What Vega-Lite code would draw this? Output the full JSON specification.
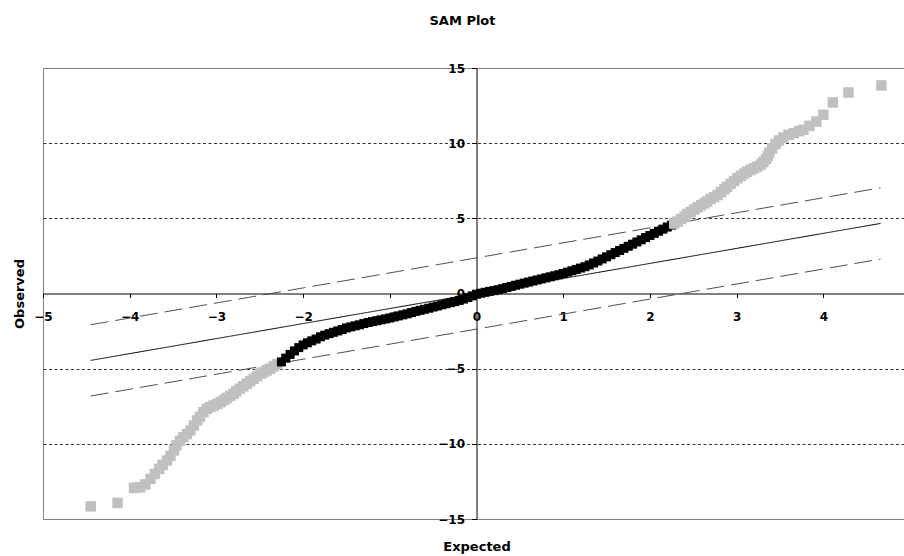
{
  "$schema": "https://vega.github.io/schema/vega-lite/v6.json",
  "autosize": {"type": "none"},
  "padding": {"left": 43, "top": 68, "right": 0, "bottom": 37},
  "width": 867,
  "height": 451,
  "background": "white",
  "title": {"text": "SAM Plot", "font": "DejaVu Sans", "fontSize": 13, "fontWeight": "bold", "color": "#000000", "anchor": "middle", "dx": -14, "offset": 34},
  "config": {
    "view": {"stroke": "#808080", "strokeWidth": 1},
    "axis": {"labelFont": "DejaVu Sans", "labelFontWeight": "bold", "labelFontSize": 12, "labelColor": "#000000", "titleFont": "DejaVu Sans", "titleFontWeight": "bold", "titleFontSize": 13, "titleColor": "#000000", "domainColor": "#000000", "tickColor": "#000000", "labelOverlap": false, "labelBound": false, "labelFlush": false}
  },
  "datasets": {
    "pts": [
      {"x": -4.45, "y": -14.16, "g": "sig"},
      {"x": -4.14, "y": -13.93, "g": "sig"},
      {"x": -3.95, "y": -12.93, "g": "sig"},
      {"x": -3.88, "y": -12.89, "g": "sig"},
      {"x": -3.82, "y": -12.7, "g": "sig"},
      {"x": -3.76, "y": -12.33, "g": "sig"},
      {"x": -3.71, "y": -12.0, "g": "sig"},
      {"x": -3.66, "y": -11.67, "g": "sig"},
      {"x": -3.62, "y": -11.4, "g": "sig"},
      {"x": -3.57, "y": -11.11, "g": "sig"},
      {"x": -3.53, "y": -10.8, "g": "sig"},
      {"x": -3.49, "y": -10.44, "g": "sig"},
      {"x": -3.46, "y": -10.1, "g": "sig"},
      {"x": -3.42, "y": -9.8, "g": "sig"},
      {"x": -3.38, "y": -9.56, "g": "sig"},
      {"x": -3.34, "y": -9.35, "g": "sig"},
      {"x": -3.3, "y": -9.11, "g": "sig"},
      {"x": -3.26, "y": -8.78, "g": "sig"},
      {"x": -3.22, "y": -8.44, "g": "sig"},
      {"x": -3.19, "y": -8.2, "g": "sig"},
      {"x": -3.15, "y": -7.9, "g": "sig"},
      {"x": -3.11, "y": -7.67, "g": "sig"},
      {"x": -3.07, "y": -7.55, "g": "sig"},
      {"x": -3.03, "y": -7.45, "g": "sig"},
      {"x": -2.99, "y": -7.35, "g": "sig"},
      {"x": -2.95, "y": -7.22, "g": "sig"},
      {"x": -2.91, "y": -7.08, "g": "sig"},
      {"x": -2.88, "y": -6.95, "g": "sig"},
      {"x": -2.84, "y": -6.82, "g": "sig"},
      {"x": -2.8, "y": -6.67, "g": "sig"},
      {"x": -2.77, "y": -6.5, "g": "sig"},
      {"x": -2.73, "y": -6.33, "g": "sig"},
      {"x": -2.69, "y": -6.17, "g": "sig"},
      {"x": -2.65, "y": -6.0, "g": "sig"},
      {"x": -2.61, "y": -5.83, "g": "sig"},
      {"x": -2.57, "y": -5.67, "g": "sig"},
      {"x": -2.53, "y": -5.5, "g": "sig"},
      {"x": -2.49, "y": -5.33, "g": "sig"},
      {"x": -2.46, "y": -5.25, "g": "sig"},
      {"x": -2.42, "y": -5.12, "g": "sig"},
      {"x": -2.38, "y": -5.0, "g": "sig"},
      {"x": -2.34, "y": -4.85, "g": "sig"},
      {"x": -2.3, "y": -4.7, "g": "sig"},
      {"x": -2.25, "y": -4.55, "g": "ns"},
      {"x": -2.2, "y": -4.3, "g": "ns"},
      {"x": -2.15, "y": -4.05, "g": "ns"},
      {"x": -2.1, "y": -3.82, "g": "ns"},
      {"x": -2.05, "y": -3.6, "g": "ns"},
      {"x": -2.0, "y": -3.42, "g": "ns"},
      {"x": -1.95, "y": -3.28, "g": "ns"},
      {"x": -1.9, "y": -3.15, "g": "ns"},
      {"x": -1.85, "y": -3.03, "g": "ns"},
      {"x": -1.8, "y": -2.88, "g": "ns"},
      {"x": -1.75, "y": -2.77, "g": "ns"},
      {"x": -1.7, "y": -2.67, "g": "ns"},
      {"x": -1.65, "y": -2.58, "g": "ns"},
      {"x": -1.6, "y": -2.49, "g": "ns"},
      {"x": -1.55, "y": -2.4, "g": "ns"},
      {"x": -1.5, "y": -2.29, "g": "ns"},
      {"x": -1.45, "y": -2.22, "g": "ns"},
      {"x": -1.4, "y": -2.15, "g": "ns"},
      {"x": -1.35, "y": -2.08, "g": "ns"},
      {"x": -1.3, "y": -2.0, "g": "ns"},
      {"x": -1.25, "y": -1.93, "g": "ns"},
      {"x": -1.2, "y": -1.87, "g": "ns"},
      {"x": -1.15, "y": -1.81, "g": "ns"},
      {"x": -1.1, "y": -1.75, "g": "ns"},
      {"x": -1.05, "y": -1.69, "g": "ns"},
      {"x": -1.0, "y": -1.63, "g": "ns"},
      {"x": -0.95, "y": -1.56, "g": "ns"},
      {"x": -0.9, "y": -1.49, "g": "ns"},
      {"x": -0.85, "y": -1.42, "g": "ns"},
      {"x": -0.8, "y": -1.35, "g": "ns"},
      {"x": -0.75, "y": -1.27, "g": "ns"},
      {"x": -0.7, "y": -1.19, "g": "ns"},
      {"x": -0.65, "y": -1.12, "g": "ns"},
      {"x": -0.6, "y": -1.05, "g": "ns"},
      {"x": -0.55, "y": -0.98, "g": "ns"},
      {"x": -0.5, "y": -0.9, "g": "ns"},
      {"x": -0.45, "y": -0.83, "g": "ns"},
      {"x": -0.4, "y": -0.75, "g": "ns"},
      {"x": -0.35, "y": -0.68, "g": "ns"},
      {"x": -0.3, "y": -0.61, "g": "ns"},
      {"x": -0.25, "y": -0.54, "g": "ns"},
      {"x": -0.2, "y": -0.46, "g": "ns"},
      {"x": -0.15, "y": -0.37, "g": "ns"},
      {"x": -0.1, "y": -0.27, "g": "ns"},
      {"x": -0.05, "y": -0.16, "g": "ns"},
      {"x": 0.0, "y": -0.05, "g": "ns"},
      {"x": 0.05, "y": 0.02, "g": "ns"},
      {"x": 0.1, "y": 0.08, "g": "ns"},
      {"x": 0.15, "y": 0.14, "g": "ns"},
      {"x": 0.2, "y": 0.19, "g": "ns"},
      {"x": 0.25, "y": 0.25, "g": "ns"},
      {"x": 0.3, "y": 0.32, "g": "ns"},
      {"x": 0.35, "y": 0.4, "g": "ns"},
      {"x": 0.4, "y": 0.47, "g": "ns"},
      {"x": 0.45, "y": 0.55, "g": "ns"},
      {"x": 0.5, "y": 0.62, "g": "ns"},
      {"x": 0.55, "y": 0.69, "g": "ns"},
      {"x": 0.6, "y": 0.76, "g": "ns"},
      {"x": 0.65, "y": 0.83, "g": "ns"},
      {"x": 0.7, "y": 0.9, "g": "ns"},
      {"x": 0.75, "y": 0.97, "g": "ns"},
      {"x": 0.8, "y": 1.04, "g": "ns"},
      {"x": 0.85, "y": 1.11, "g": "ns"},
      {"x": 0.9, "y": 1.18, "g": "ns"},
      {"x": 0.95, "y": 1.25, "g": "ns"},
      {"x": 1.0, "y": 1.33, "g": "ns"},
      {"x": 1.05, "y": 1.42, "g": "ns"},
      {"x": 1.1, "y": 1.51, "g": "ns"},
      {"x": 1.15, "y": 1.6, "g": "ns"},
      {"x": 1.2, "y": 1.69, "g": "ns"},
      {"x": 1.25, "y": 1.78, "g": "ns"},
      {"x": 1.3, "y": 1.9, "g": "ns"},
      {"x": 1.35, "y": 2.03, "g": "ns"},
      {"x": 1.4, "y": 2.16, "g": "ns"},
      {"x": 1.45, "y": 2.3, "g": "ns"},
      {"x": 1.5, "y": 2.44, "g": "ns"},
      {"x": 1.55, "y": 2.58, "g": "ns"},
      {"x": 1.6, "y": 2.72, "g": "ns"},
      {"x": 1.65, "y": 2.86, "g": "ns"},
      {"x": 1.7, "y": 3.0, "g": "ns"},
      {"x": 1.75, "y": 3.14, "g": "ns"},
      {"x": 1.8, "y": 3.28, "g": "ns"},
      {"x": 1.85, "y": 3.43, "g": "ns"},
      {"x": 1.9, "y": 3.57, "g": "ns"},
      {"x": 1.95, "y": 3.72, "g": "ns"},
      {"x": 2.0, "y": 3.86, "g": "ns"},
      {"x": 2.05, "y": 4.0, "g": "ns"},
      {"x": 2.1, "y": 4.14, "g": "ns"},
      {"x": 2.15, "y": 4.28, "g": "ns"},
      {"x": 2.2, "y": 4.42, "g": "ns"},
      {"x": 2.25, "y": 4.55, "g": "ns"},
      {"x": 2.28, "y": 4.65, "g": "sig"},
      {"x": 2.32, "y": 4.78, "g": "sig"},
      {"x": 2.36, "y": 4.95, "g": "sig"},
      {"x": 2.4, "y": 5.12, "g": "sig"},
      {"x": 2.43, "y": 5.29, "g": "sig"},
      {"x": 2.47, "y": 5.42, "g": "sig"},
      {"x": 2.51, "y": 5.58, "g": "sig"},
      {"x": 2.55, "y": 5.73, "g": "sig"},
      {"x": 2.59, "y": 5.87, "g": "sig"},
      {"x": 2.63, "y": 6.0, "g": "sig"},
      {"x": 2.66, "y": 6.11, "g": "sig"},
      {"x": 2.7, "y": 6.28, "g": "sig"},
      {"x": 2.74, "y": 6.4, "g": "sig"},
      {"x": 2.78, "y": 6.55, "g": "sig"},
      {"x": 2.82, "y": 6.75, "g": "sig"},
      {"x": 2.86, "y": 6.93, "g": "sig"},
      {"x": 2.89, "y": 7.1, "g": "sig"},
      {"x": 2.93, "y": 7.3, "g": "sig"},
      {"x": 2.97, "y": 7.48, "g": "sig"},
      {"x": 3.01, "y": 7.67, "g": "sig"},
      {"x": 3.05, "y": 7.83, "g": "sig"},
      {"x": 3.09, "y": 7.98, "g": "sig"},
      {"x": 3.12, "y": 8.1, "g": "sig"},
      {"x": 3.16, "y": 8.22, "g": "sig"},
      {"x": 3.2, "y": 8.33, "g": "sig"},
      {"x": 3.24, "y": 8.44, "g": "sig"},
      {"x": 3.28, "y": 8.58, "g": "sig"},
      {"x": 3.31, "y": 8.75, "g": "sig"},
      {"x": 3.34, "y": 8.95, "g": "sig"},
      {"x": 3.36, "y": 9.15, "g": "sig"},
      {"x": 3.38, "y": 9.38, "g": "sig"},
      {"x": 3.41, "y": 9.65, "g": "sig"},
      {"x": 3.45, "y": 9.95, "g": "sig"},
      {"x": 3.49, "y": 10.18, "g": "sig"},
      {"x": 3.54, "y": 10.38, "g": "sig"},
      {"x": 3.6, "y": 10.55, "g": "sig"},
      {"x": 3.66, "y": 10.67, "g": "sig"},
      {"x": 3.72, "y": 10.8, "g": "sig"},
      {"x": 3.77, "y": 10.89, "g": "sig"},
      {"x": 3.84, "y": 11.15, "g": "sig"},
      {"x": 3.92, "y": 11.44, "g": "sig"},
      {"x": 4.0, "y": 11.89, "g": "sig"},
      {"x": 4.11, "y": 12.71, "g": "sig"},
      {"x": 4.29, "y": 13.37, "g": "sig"},
      {"x": 4.67, "y": 13.84, "g": "sig"}
    ],
    "lines": [
      {"line": "center", "kind": "solid", "x": -4.45, "y": -4.45},
      {"line": "center", "kind": "solid", "x": 4.66, "y": 4.66},
      {"line": "upper", "kind": "dashed", "x": -4.45, "y": -2.08},
      {"line": "upper", "kind": "dashed", "x": 4.66, "y": 7.03},
      {"line": "lower", "kind": "dashed", "x": -4.45, "y": -6.82},
      {"line": "lower", "kind": "dashed", "x": 4.66, "y": 2.29}
    ]
  },
  "layer": [
    {
      "data": {"name": "lines"},
      "mark": {"type": "line", "strokeWidth": 1, "clip": true},
      "encoding": {
        "x": {"field": "x", "type": "quantitative", "scale": {"domain": [-5, 5], "nice": false, "zero": false},
          "axis": {"orient": "bottom", "offset": -225.5, "values": [-5, -4, -3, -2, -1, 0, 1, 2, 3, 4], "format": "d", "tickSize": 4, "labelPadding": 14, "grid": false, "domainWidth": 1, "title": "Expected", "titleBaseline": "middle", "titleY": 252.5}},
        "y": {"field": "y", "type": "quantitative", "scale": {"domain": [-15, 15], "nice": false, "zero": false},
          "axis": {"orient": "left", "offset": -433.5, "values": [-15, -10, -5, 0, 5, 10, 15], "format": "d", "tickSize": 5, "labelPadding": 7, "labelBaseline": "middle", "grid": true, "gridColor": "#333333", "gridDash": [3, 2.5], "gridWidth": 1, "gridOpacity": {"condition": {"test": "datum.value === 0 || abs(datum.value) === 15", "value": 0}, "value": 1}, "domainWidth": 1, "title": "Observed", "titleBaseline": "middle", "titleX": -457.5}},
        "detail": {"field": "line"},
        "strokeDash": {"field": "kind", "type": "nominal", "scale": {"domain": ["solid", "dashed"], "range": [[1, 0], [18, 7]]}, "legend": null},
        "color": {"field": "kind", "type": "nominal", "scale": {"domain": ["solid", "dashed"], "range": ["#000000", "#505050"]}, "legend": null}
      }
    },
    {
      "data": {"name": "pts"},
      "mark": {"type": "point", "shape": "square", "filled": true, "opacity": 1, "strokeWidth": 0},
      "encoding": {
        "x": {"field": "x", "type": "quantitative"},
        "y": {"field": "y", "type": "quantitative"},
        "color": {"field": "g", "type": "nominal", "scale": {"domain": ["ns", "sig"], "range": ["#000000", "#c0c0c0"]}, "legend": null},
        "size": {"field": "g", "type": "nominal", "scale": {"domain": ["ns", "sig"], "range": [81, 110]}, "legend": null}
      }
    }
  ],
  "resolve": {"scale": {"color": "independent"}}
}
